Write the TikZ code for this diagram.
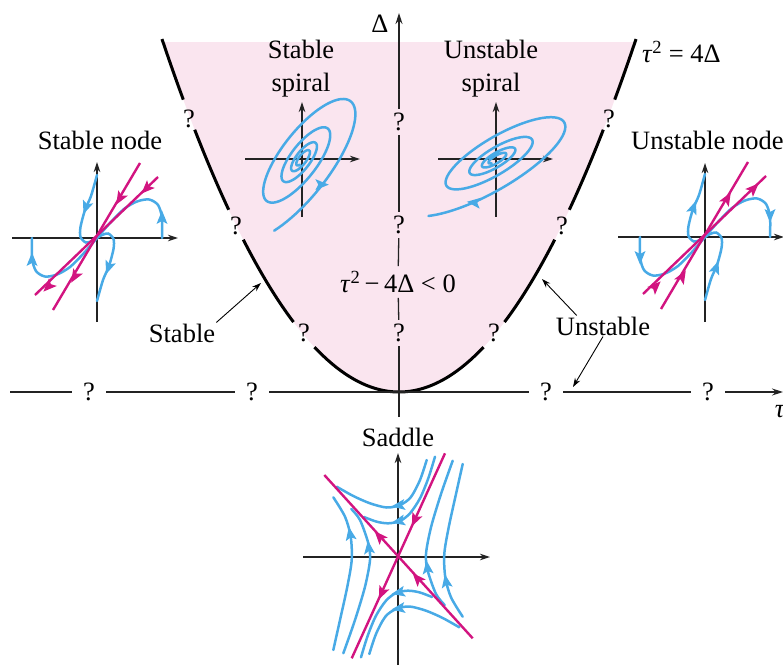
\documentclass[tikz,border=0pt]{standalone}
\usepackage{fontspec}
\setmainfont{Liberation Serif}
\usetikzlibrary{arrows.meta}
\definecolor{pinkfill}{RGB}{250,229,239}
\definecolor{skyb}{RGB}{72,170,230}
\definecolor{magn}{RGB}{210,20,128}
\definecolor{axc}{RGB}{35,35,35}
\newcommand{\tauit}{\textit{τ}}
\tikzset{
  ahd/.pic={\fill[#1] (6.5,0) -- (-7,5.5) -- (-4,0) -- (-7,-5.5) -- cycle;},
  lbl/.style={font=\fontsize{26.5}{33}\selectfont, inner sep=1pt, align=center},
  qm/.style={font=\fontsize{26.5}{33}\selectfont, inner sep=0pt, minimum width=34pt, minimum height=26pt},
  mainax/.style={draw=axc, line width=1.3pt},
  mainarrow/.style={mainax, -{Stealth[length=11pt,width=7pt]}},
  pax/.style={draw=axc, line width=1.2pt},
  paxarrow/.style={pax, -{Stealth[length=10pt,width=6.5pt]}},
  bcurve/.style={draw=skyb, line width=2.5pt, line cap=round},
  mline/.style={draw=magn, line width=2.4pt},
  pcurve/.style={draw=black, line width=3pt},
  thinarrow/.style={draw=black, line width=0.9pt, -{Stealth[length=9pt,width=6pt]}}
}
\newcommand{\nodeblue}{%
  \draw[bcurve] plot[smooth] coordinates {(0,63) (-6,42) (-12,28) (-16.5,11) (-16.5,1) (-11,-4.5) (-4,-2.5) (0,0)};
  \draw[bcurve] plot[smooth] coordinates {(65,0) (65,20) (61,33) (52,38.5) (40,36.5) (27,29) (13,15) (0,0)};
}
\newcommand{\nodearrows}[1]{%
  \pic[rotate=250+#1] at (-11.3,30) {ahd=skyb};
  \pic[rotate=90+#1] at (65,21) {ahd=skyb};
  \pic[rotate=239.6+#1] at (22.5,39) {ahd=magn};
  \pic[rotate=225+#1] at (49,49) {ahd=magn};
}
\newcommand{\spiralcurve}[3]{%
  \draw[bcurve] plot[domain=#3:1300, samples=380, variable=\t]
    ({#1*exp(-0.001764*\t)*cos(\t)}, {#2*#1*exp(-0.001764*\t)*sin(\t)});
}
\begin{document}
\begin{tikzpicture}[x=1pt,y=1pt]
\useasboundingbox (0,0) rectangle (783,665);
% pink region
\fill[pinkfill] plot[domain=-236:236, samples=120] ({399+\x},{273+(0.07927*\x)*(0.07927*\x)}) -- cycle;
% parabola with gaps
\foreach \a/\b in {-237/-215.7, -204.3/-170.3, -155.7/-105.5, -84.5/84.5, 105.5/155.7, 170.3/204.3, 215.7/237}
  \draw[pcurve] plot[domain=\a:\b, samples=40] ({399+\x},{273+(0.07927*\x)*(0.07927*\x)});
\node[qm] (pl1) at (189,546) {?};
\node[qm] (pl2) at (236,439) {?};
\node[qm] (pl3) at (304,332) {?};
\node[qm] (pr1) at (609,546) {?};
\node[qm] (pr2) at (562,439) {?};
\node[qm] (pr3) at (494,332) {?};
% tau axis
\coordinate (tauL) at (10,273);
\coordinate (tauR) at (783,273);
\node[qm] (qh1) at (89,273) {?};
\node[qm] (qh2) at (252,273) {?};
\node[qm] (qh3) at (546,273) {?};
\node[qm] (qh4) at (708,273) {?};
\draw[mainax] (tauL) -- (qh1);
\draw[mainax] (qh1) -- (qh2);
\draw[mainax] (qh2) -- (qh3);
\draw[mainax] (qh3) -- (qh4);
\draw[mainarrow] (qh4) -- (tauR);
% Delta axis
\coordinate (dbot) at (399,248);
\coordinate (dtop) at (399,652);
\node[qm] (qv1) at (399,543) {?};
\node[qm] (qv2) at (399,440) {?};
\node[qm] (qv3) at (399,332) {?};
\node[lbl, inner sep=5pt] (ineq) at (398,383) {\tauit\textsuperscript{2}\,−\,4Δ < 0};
\draw[mainax] (dbot) -- (qv3);
\draw[mainax] (qv3) -- (ineq);
\draw[mainax] (ineq) -- (qv2);
\draw[mainax] (qv2) -- (qv1);
\draw[mainarrow] (qv1) -- (dtop);
% labels
\node[lbl] (ssp) at (301,596) {Stable\\spiral};
\node[lbl] (usp) at (491,596) {Unstable\\spiral};
\node[lbl, anchor=west] (parlab) at (641,613) {\tauit\textsuperscript{2} = 4Δ};
\node[lbl] (snl) at (100,525) {Stable node};
\node[lbl, anchor=west] (unl2) at (630,525) {Unstable node};
\node[lbl] (sadl) at (398,228) {Saddle};
\node[lbl] (stl) at (182,332) {Stable};
\node[lbl] (unl) at (603,339) {Unstable};
\node[lbl] (dlab) at (380,641) {Δ};
\node[lbl] (tlab) at (780,253) {\tauit};
\coordinate (stTip) at (261,382);
\coordinate (unTip1) at (542,386);
\coordinate (unTip2) at (573,278);
\draw[thinarrow] (stl.north east) -- (stTip);
\draw[thinarrow] ([xshift=22pt]unl.north west) -- (unTip1);
\draw[thinarrow] (unl.south) -- (unTip2);
% stable node
\begin{scope}[shift={(97,427)}]
  \draw[paxarrow] (-85,0) -- (81,0);
  \draw[paxarrow] (0,-84) -- (0,76);
  \nodeblue
  \begin{scope}[rotate=180]\nodeblue\end{scope}
  \draw[mline] (-44,-72) -- (43,75);
  \draw[mline] (-62,-57) -- (61,61);
  \nodearrows{0}
  \begin{scope}[rotate=180]\nodearrows{0}\end{scope}
\end{scope}
% unstable node
\begin{scope}[shift={(705,428)}]
  \draw[paxarrow] (-87,0) -- (79,0);
  \draw[paxarrow] (0,-85) -- (0,74);
  \nodeblue
  \begin{scope}[rotate=180]\nodeblue\end{scope}
  \draw[mline] (-44,-72) -- (43,75);
  \draw[mline] (-62,-57) -- (61,61);
  \nodearrows{180}
  \begin{scope}[rotate=180]\nodearrows{180}\end{scope}
\end{scope}
% stable spiral
\begin{scope}[shift={(302,506)}]
  \draw[paxarrow] (-57,0) -- (58,0);
  \draw[paxarrow] (0,-58) -- (0,57);
  \begin{scope}[rotate=52]
    \spiralcurve{75}{0.36}{-140}
    \pic at (-7.7,-31.8) {ahd=skyb};
  \end{scope}
\end{scope}
% unstable spiral
\begin{scope}[shift={(496,506)}]
  \draw[paxarrow] (-58,0) -- (57,0);
  \draw[paxarrow] (0,-58) -- (0,57);
  \begin{scope}[rotate=30]
    \spiralcurve{77}{0.31}{-150}
    \pic[rotate=173.7] at (-41.4,-26.3) {ahd=skyb};
  \end{scope}
\end{scope}
% saddle
\begin{scope}[shift={(398,108)}]
  \draw[paxarrow] (-95,0) -- (92,0);
  \draw[paxarrow] (0,-108) -- (0,104);
  \foreach \r in {0,180}{
    \begin{scope}[rotate=\r]
      \draw[bcurve] plot[smooth] coordinates {(28.7,97) (22,77) (12.7,59.7) (2,52) (-11.3,49.5) (-28,53.7) (-44.7,61) (-61.3,70.3)};
      \draw[bcurve] plot[smooth] coordinates {(37,100.3) (30.3,78.7) (22,58.7) (12,43.7) (2,36) (-9.7,33.7) (-21.3,35.3) (-34,40)};
      \draw[bcurve] plot[smooth] coordinates {(-64.7,-93) (-58,-63) (-50.7,-29.7) (-46.3,-3) (-47.3,20.3) (-53,40.3) (-64.7,59.7)};
      \draw[bcurve] plot[smooth] coordinates {(-54.7,-96.3) (-43,-63) (-33,-29.7) (-28,-3) (-29.7,13.7) (-38,37) (-46.7,48)};
    \end{scope}}
  \draw[mline] (-73.7,82) -- (74.7,-81.3);
  \draw[mline] (-46.3,-101.3) -- (47,103.7);
  \foreach \r in {0,180}{
    \begin{scope}[rotate=\r]
      \pic[rotate=188] at (0,51.5) {ahd=skyb};
      \pic[rotate=192] at (0,35.6) {ahd=skyb};
      \pic[rotate=100] at (-48,23.7) {ahd=skyb};
      \pic[rotate=97] at (-29.3,10) {ahd=skyb};
      \pic[rotate=132] at (-19,21) {ahd=magn};
      \pic[rotate=245.6] at (16.5,36.5) {ahd=magn};
    \end{scope}}
\end{scope}
\end{tikzpicture}
\end{document}
